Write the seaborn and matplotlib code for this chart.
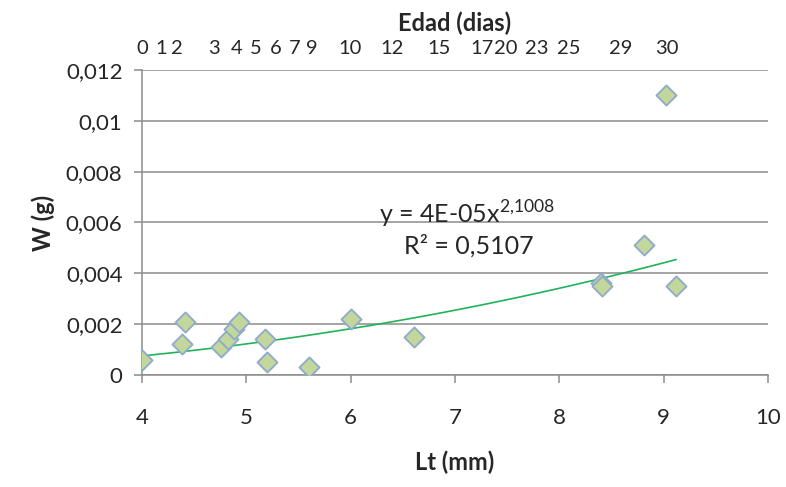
import numpy as np
import pandas as pd
import matplotlib
matplotlib.use('Agg')
import matplotlib.pyplot as plt
import seaborn as sns
from matplotlib.ticker import FuncFormatter, MultipleLocator

# data
lt_mm = [4.0, 4.38, 4.41, 4.76, 4.82, 4.88, 4.93, 5.18, 5.2, 5.6, 6.0, 6.61,
         8.4, 8.41, 8.81, 9.02, 9.12]
w_g = [0.0006, 0.0012, 0.0021, 0.0011, 0.0014, 0.0018, 0.0021, 0.0014, 0.0005,
       0.0003, 0.0022, 0.0015, 0.0036, 0.0035, 0.0051, 0.011, 0.0035]

# age (days) labels shown on the top axis, placed at the matching length
edad_labels = ['0', '1', '2', '3', '4', '5', '6', '7', '9', '10', '12', '15',
               '17', '20', '23', '25', '29', '30']
edad_lt = [4.0, 4.18, 4.33, 4.69, 4.91, 5.09, 5.28, 5.46, 5.63, 5.99, 6.40,
           6.85, 7.26, 7.49, 7.78, 8.09, 8.59, 9.03]

eq_text = 'y = 4E-05x$^{2{,}1008}$'
r2_text = 'R² = 0,5107'

df = pd.DataFrame({'Lt': lt_mm, 'W': w_g})

# power trendline (Excel style: fit in log-log space)
b, log_a = np.polyfit(np.log(df['Lt']), np.log(df['W']), 1)
fit_x = np.linspace(min(lt_mm), max(lt_mm), 100)
fit = pd.DataFrame({'Lt': fit_x, 'W': np.exp(log_a) * fit_x ** b})

sns.set_style('white')
plt.rcParams['font.family'] = ['Lato', 'DejaVu Sans']
plt.rcParams['mathtext.fontset'] = 'custom'
plt.rcParams['mathtext.rm'] = 'Lato'

fig = plt.figure(figsize=(7.86, 4.87), dpi=100)
ax = fig.add_axes([0.1807, 0.23, 0.7963, 0.6263])

grid_col = '#8c8c8c'
ax.set_axisbelow(True)
ax.yaxis.grid(True, color=grid_col, lw=1.1)

sns.lineplot(data=fit, x='Lt', y='W', ax=ax, color='#1fb35a', lw=1.2, zorder=2)
sns.scatterplot(data=df, x='Lt', y='W', ax=ax, marker='D', s=105,
                color='#c3d69b', edgecolor='#8eaacb', linewidth=1.3, zorder=3)

ax.set_xlim(4, 10)
ax.set_ylim(0, 0.012)
ax.xaxis.set_major_locator(MultipleLocator(1))
ax.yaxis.set_major_locator(MultipleLocator(0.002))
ax.yaxis.set_major_formatter(FuncFormatter(lambda v, p: '{:g}'.format(round(v, 4)).replace('.', ',')))

for s in ['top', 'right']:
    ax.spines[s].set_visible(False)
for s in ['left', 'bottom']:
    ax.spines[s].set_color(grid_col)
    ax.spines[s].set_linewidth(1.1)

ax.tick_params(axis='both', which='major', labelsize=16, color=grid_col,
               length=6, width=1.1, direction='out', left=True, bottom=True)
ax.tick_params(axis='x', pad=18)
ax.tick_params(axis='y', pad=8)

ax.set_xlabel('Lt (mm)', fontsize=17, fontweight='bold', labelpad=16)
ax.set_ylabel('W (g)', fontsize=17, fontweight='bold', labelpad=8)

# top axis with ages
top = ax.secondary_xaxis('top')
top.set_xticks(edad_lt)
top.set_xticklabels(edad_labels)
top.tick_params(length=0, labelsize=14.5, pad=9)
top.spines['top'].set_visible(False)
top.set_xlabel('Edad (dias)', fontsize=17, fontweight='bold', labelpad=7)

ax.text(7.12, 0.0063, eq_text, fontsize=18, ha='center', va='center')
ax.text(7.13, 0.00508, r2_text, fontsize=18, ha='center', va='center')

fig.savefig('out.png', dpi=100)
